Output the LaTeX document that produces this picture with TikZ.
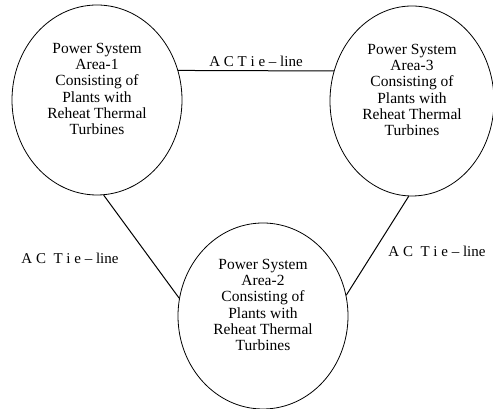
\documentclass[tikz,border=0pt]{standalone}
\usepackage{fontspec}
\setmainfont{Liberation Serif}
\usetikzlibrary{shapes.geometric,positioning}

\begin{document}
\begin{tikzpicture}[%
    x=1pt, y=1pt,
    area/.style={
        draw,
        ellipse,
        line width=0.8pt,
        minimum width=170pt,
        minimum height=190pt,
        inner sep=0pt
        },
    areatext/.style={
        align=center,
        font=\fontsize{15.5}{16.2}\selectfont
        },
    tieline/.style={line width=1pt},
    tielabel/.style={
        inner sep=1pt,
        font=\fontsize{15}{16}\selectfont
        }
]

\useasboundingbox (0,0) rectangle (493,409);

% the three areas
\node[area] (ar1) at (97,309) {};
\node[area, minimum width=164pt] (ar3) at (412,308) {};
\node[area, minimum height=186pt] (ar2) at (263,93) {};

\node[areatext] (txt1) at ([yshift=11pt]ar1.center) {Power System\\Area-1\\Consisting of\\Plants with\\Reheat Thermal\\Turbines};
\node[areatext] (txt3) at ([yshift=11pt]ar3.center) {Power System\\Area-3\\Consisting of\\Plants with\\Reheat Thermal\\Turbines};
\node[areatext] (txt2) at ([yshift=11pt]ar2.center) {Power System\\Area-2\\Consisting of\\Plants with\\Reheat Thermal\\Turbines};

% tie-lines
\draw[tieline] (ar1.20) -- node[tielabel, above=3pt] (lab13) {A C T i e -- line} (ar3.159);
\draw[tieline] (ar1.-86) -- (ar2.168);
\draw[tieline] (ar3.-92) -- (ar2.14);

\node[tielabel] (lab12) at (70,151) {A C \ T i e -- line};
\node[tielabel] (lab23) at (437,158) {A C \ T i e -- line};

\end{tikzpicture}
\end{document}
